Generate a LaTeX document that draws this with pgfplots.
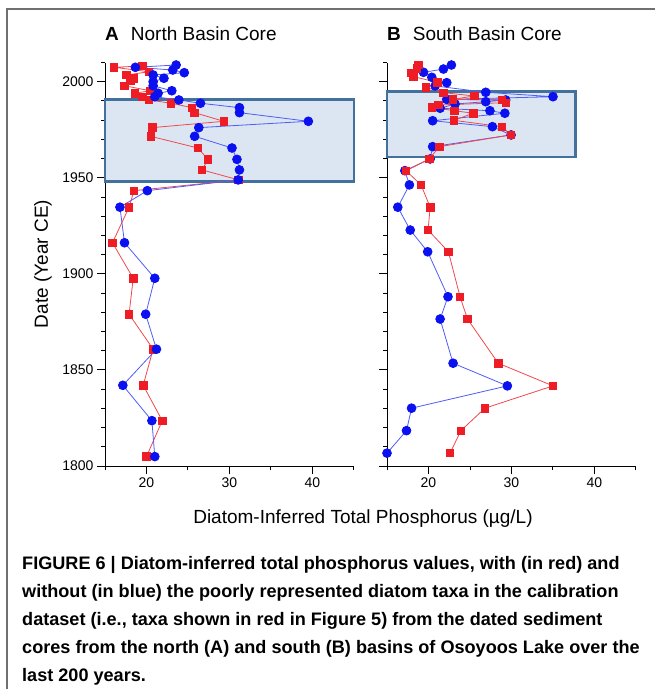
\documentclass[border=0pt]{standalone}
\usepackage{fontspec}
\setmainfont{Liberation Sans}
\usepackage{pgfplots}
\usepackage{pgfplotstable}
\pgfplotsset{compat=1.18}

\definecolor{mkblue}{HTML}{0A10F0}
\definecolor{lnblue}{HTML}{4F5CF5}
\definecolor{mkred}{HTML}{EE1C25}
\definecolor{lnred}{HTML}{F0484E}
\definecolor{boxfill}{HTML}{DCE6F2}
\definecolor{boxline}{HTML}{41719C}
\definecolor{framegray}{HTML}{707070}

% north basin core
\pgfplotstableread{
yr tp
2008.7 23.57
2007.5 18.66
2006.1 23.17
2004.7 24.55
2003.5 20.8
2001.8 22.1
2000.0 20.8
1997.9 20.8
1995.3 23.05
1994.0 21.4
1992.2 21.0
1990.5 23.9
1988.8 26.5
1986.5 31.2
1983.9 31.2
1979.4 39.5
1976.1 26.3
1971.6 25.8
1965.5 30.3
1959.6 30.9
1954.1 31.2
1948.9 31.05
1943.3 20.1
1934.7 16.8
1916.2 17.35
1897.7 21.0
1879.0 19.9
1860.8 21.2
1842.0 17.15
1823.6 20.65
1804.9 21.0
}\northblue
\pgfplotstableread{
yr tp
2008.2 19.5
2007.5 16.1
2005.2 20.3
2003.5 17.6
2001.8 18.4
2000.5 18.05
1997.9 17.35
1995.3 20.45
1994.0 18.6
1992.2 19.5
1990.5 20.3
1988.8 22.95
1986.5 25.5
1983.9 25.8
1979.4 29.3
1976.1 20.7
1971.6 20.5
1965.5 26.2
1959.6 27.4
1954.1 26.7
1948.9 31.1
1943.3 18.5
1934.7 17.9
1916.2 15.9
1897.7 18.4
1879.0 17.9
1860.8 20.8
1842.0 19.6
1823.6 21.9
1804.9 20.0
}\northred

% south basin core
\pgfplotstableread{
yr tp
2008.7 22.76
2006.6 21.8
2004.9 19.4
2002.3 20.4
1999.5 22.2
1997.8 20.8
1994.5 26.9
1992.2 35.0
1990.8 22.2
1990.5 29.3
1989.6 26.9
1988.4 23.2
1986.2 21.4
1984.9 27.4
1983.6 29.2
1979.7 20.5
1976.6 27.7
1972.3 29.95
1966.2 20.5
1959.8 20.2
1953.7 17.15
1946.3 17.7
1934.7 16.3
1922.8 17.8
1911.5 19.9
1888.1 22.35
1876.5 21.4
1853.5 22.96
1841.7 29.5
1830.1 17.96
1818.4 17.35
1806.7 15.0
}\southblue
\pgfplotstableread{
yr tp
2008.7 18.8
2007.0 18.6
2004.7 17.96
2002.6 18.2
1999.7 21.1
1997.1 19.7
1994.3 21.8
1992.6 25.5
1990.8 22.96
1990.5 28.85
1989.1 29.3
1987.9 21.2
1986.7 20.4
1984.9 23.1
1983.6 25.4
1979.9 23.05
1976.6 28.85
1972.3 29.9
1966.2 21.3
1959.8 20.1
1953.7 17.3
1946.3 19.1
1934.7 20.2
1922.8 19.95
1911.5 22.4
1888.1 23.8
1876.5 24.7
1853.5 28.4
1841.7 35.0
1830.1 26.8
1818.4 23.9
1806.7 22.6
}\southred

\pgfplotsset{
  core/.style={
    scale only axis, width=249pt, height=403.5pt,
    anchor=south west,
    xmin=15, xmax=45, ymin=1800, ymax=2010,
    axis lines*=left,
    axis line style={line width=1pt, black},
    tick align=outside,
    major tick length=8pt, minor tick length=4pt,
    every tick/.style={line width=1pt, black},
    xtick={20,30,40}, minor xtick={15,25,35,45},
    ytick={1800,1850,1900,1950,2000},
    minor ytick={1810,1820,1830,1840,1860,1870,1880,1890,1910,1920,1930,1940,1960,1970,1980,1990,2010},
    tick label style={font=\fontsize{14}{16}\selectfont},
    /pgf/number format/assume math mode=true,
    /pgf/number format/1000 sep={},
    clip=false,
  },
  blueS/.style={color=lnblue, line width=0.8pt, mark=*, mark size=4.4pt,
    mark options={fill=mkblue, draw=mkblue, solid}},
  redS/.style={color=lnred, line width=0.8pt, mark=square*, mark size=3.75pt,
    mark options={fill=mkred, draw=mkred, solid}},
}

\begin{document}
\begin{tikzpicture}
\path[use as bounding box] (0pt,0pt) rectangle (655pt,-689pt);
\draw[framegray, line width=1.5pt] (7pt,-689pt) -- (7pt,-9pt) -- (655pt,-9pt);

% A: north basin
\begin{axis}[core, at={(105pt,-466pt)}]
\draw[fill=boxfill, draw=boxline, line width=2.5pt]
  (axis cs:15,1948) rectangle (axis cs:45,1990.8);
\addplot[redS] table[x=tp, y=yr] {\northred};
\addplot[blueS] table[x=tp, y=yr] {\northblue};
\end{axis}

% B: south basin
\begin{axis}[core, at={(387pt,-466pt)}, yticklabels={}]
\draw[fill=boxfill, draw=boxline, line width=2.5pt]
  (axis cs:15,1960.7) rectangle (axis cs:37.7,1994.8);
\addplot[blueS] table[x=tp, y=yr] {\southblue};
\addplot[redS] table[x=tp, y=yr] {\southred};
\end{axis}

\node[anchor=base west, inner sep=0pt, font=\fontsize{19}{22}\selectfont]
  at (105pt,-40pt) {\textbf{A}\hspace{12pt}North Basin Core};
\node[anchor=base west, inner sep=0pt, font=\fontsize{19}{22}\selectfont]
  at (387pt,-40pt) {\textbf{B}\hspace{12pt}South Basin Core};
\node[rotate=90, inner sep=0pt, font=\fontsize{19}{22}\selectfont]
  at (43pt,-264pt) {Date (Year CE)};
\node[inner sep=0pt, font=\fontsize{19}{22}\selectfont]
  at (363pt,-519pt) {Diatom-Inferred Total Phosphorus (µg/L)};

\begin{scope}[every node/.style={anchor=base west, inner sep=0pt,
    font=\fontsize{18.1}{28}\selectfont\bfseries}]
\node at (22pt,-569.5pt) {FIGURE 6 | Diatom-inferred total phosphorus values, with (in red) and};
\node at (22pt,-597.5pt) {without (in blue) the poorly represented diatom taxa in the calibration};
\node at (22pt,-625.5pt) {dataset (i.e., taxa shown in red in Figure 5) from the dated sediment};
\node at (22pt,-653.5pt) {cores from the north (A) and south (B) basins of Osoyoos Lake over the};
\node at (22pt,-681.5pt) {last 200 years.};
\end{scope}
\end{tikzpicture}
\end{document}
